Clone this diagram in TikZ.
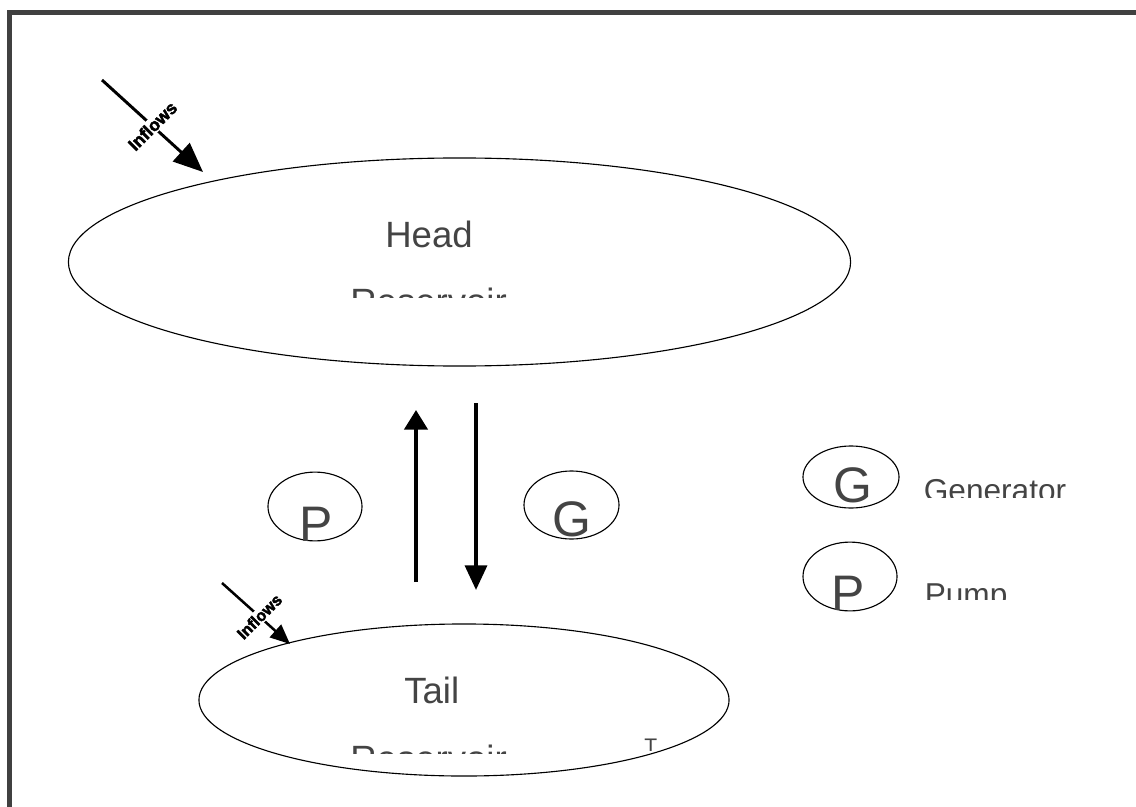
\documentclass[tikz,border=0pt]{standalone}
\usepackage{fontspec}
\setmainfont{Liberation Sans}
\newfontfamily\inflowfont{Liberation Sans Bold}[FakeBold=2.5]
\usetikzlibrary{shapes.geometric,arrows.meta}
\definecolor{labelgray}{HTML}{444444}
\definecolor{framegray}{HTML}{404040}

\begin{document}
\begin{tikzpicture}[x=0.025cm,y=-0.025cm,
  reservoir/.style={draw,ellipse,line width=0.8pt,inner sep=0pt},
  machine/.style={draw,ellipse,line width=0.8pt,inner sep=0pt,minimum width=2.35cm,minimum height=1.72cm},
  bigtext/.style={anchor=base west,inner sep=0pt,text=labelgray,font=\fontsize{26}{30}\selectfont},
  lettertext/.style={anchor=base west,inner sep=0pt,text=labelgray,font=\fontsize{35.5}{40}\selectfont},
  legendtext/.style={anchor=base west,inner sep=0pt,text=labelgray,font=\fontsize{22.5}{26}\selectfont},
  inflowtext/.style={fill=white,inner sep=1pt,rotate=45,font=\inflowfont\fontsize{12.5}{14}\selectfont},
  flowarrow/.style={line width=2.8pt,-{Triangle[width=16.5pt,length=14pt]}}
]
\useasboundingbox (0,0) rectangle (1136,807);

% Frame
\draw[framegray,line width=3.5pt] (9.5,12.5) rectangle (1160,830);

% Reservoirs
\node[reservoir,minimum width=19.55cm,minimum height=5.2cm] (head) at (459.5,262) {};
\node[reservoir,minimum width=13.25cm,minimum height=3.8cm] (tail) at (464,700) {};

\begin{scope}
\clip (330,190) rectangle (560,297);
\node[bigtext] (headname) at (385,247) {Head};
\node[bigtext] (headsub) at (350,314) {Reservoir};
\end{scope}
\begin{scope}
\clip (330,650) rectangle (560,753);
\node[bigtext] (tailname) at (404,703) {Tail};
\node[bigtext] (tailsub) at (350,771) {Reservoir};
\end{scope}
\begin{scope}
\clip (630,720) rectangle (680,750);
\node[anchor=base west,inner sep=0pt,text=labelgray,font=\fontsize{15}{18}\selectfont] (tailmark) at (644,753) {T};
\end{scope}

% Inflows
\coordinate (headin) at (102,80);
\coordinate (headtop) at (203,172);
\coordinate (tailin) at (222,583);
\coordinate (tailtop) at (290,644);
\draw[line width=2.1pt,-{Triangle[width=17.5pt,length=21pt]}] (headin) -- node[inflowtext] {Inflows} (headtop);
\draw[line width=1.8pt,-{Triangle[width=12pt,length=14pt]}] (tailin) -- node[inflowtext,pos=0.55,font=\inflowfont\fontsize{11.5}{13}\selectfont] {Inflows} (tailtop);

% Pump and generator
\node[machine] (pump) at (315,506.5) {};
\node[machine,minimum width=2.375cm,minimum height=1.7cm] (gen) at (571.5,505) {};
\node[lettertext] (pumpletter) at (299,541) {P};
\node[lettertext] (genletter) at (552.5,536) {G};

\coordinate (pumpfoot) at (416,582);
\coordinate (pumptip) at (416,410);
\coordinate (genfoot) at (476,403);
\coordinate (gentip) at (476,590);
\draw[flowarrow] (pumpfoot) -- (pumptip);
\draw[line width=2.8pt,-{Triangle[width=15.5pt,length=17.5pt]}] (genfoot) -- (gentip);

% Legend
\node[machine,minimum width=2.4cm,minimum height=1.55cm] (keygen) at (851,477) {};
\node[machine] (keypump) at (850,576.5) {};
\node[lettertext] (keygenletter) at (833,502) {G};
\node[lettertext] (keypumpletter) at (831,610) {P};
\begin{scope}
\clip (900,460) rectangle (1100,497);
\node[legendtext] (keygentext) at (923.5,501) {Generator};
\end{scope}
\begin{scope}
\clip (900,570) rectangle (1100,599);
\node[legendtext] (keypumptext) at (924.5,605) {Pump};
\end{scope}

\end{tikzpicture}
\end{document}
